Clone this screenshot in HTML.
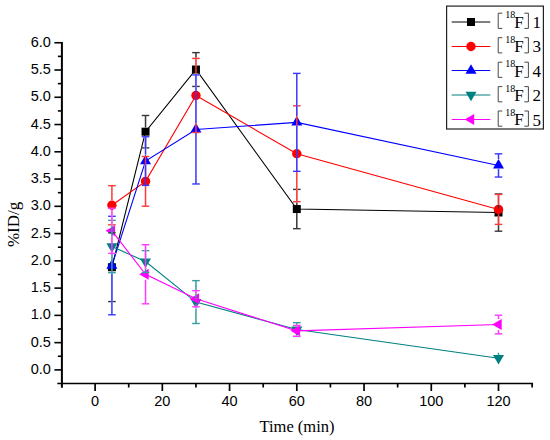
<!DOCTYPE html>
<html><head><meta charset="utf-8"><style>
html,body{margin:0;padding:0;background:#fff;}
body{width:550px;height:440px;overflow:hidden;}
svg{display:block;}
.tl{font-family:"Liberation Sans",sans-serif;font-size:14.5px;fill:#000;}
.at{font-family:"Liberation Serif",serif;font-size:16.5px;fill:#000;}
.lg{font-family:"Liberation Serif",serif;font-size:17px;fill:#000;}
.sup{font-family:"Liberation Serif",serif;font-size:10px;fill:#000;}
</style></head><body>
<svg width="550" height="440" viewBox="0 0 550 440">
<line x1="61.9" y1="41.90" x2="61.9" y2="387.7" stroke="#000" stroke-width="2"/>
<line x1="57.3" y1="383.5" x2="533.02" y2="383.5" stroke="#000" stroke-width="1.7"/>
<line x1="54.40" y1="369.90" x2="61.9" y2="369.90" stroke="#000" stroke-width="1.6"/>
<text x="50.8" y="373.90" text-anchor="end" class="tl">0.0</text>
<line x1="57.90" y1="356.27" x2="61.9" y2="356.27" stroke="#000" stroke-width="1.6"/>
<line x1="54.40" y1="342.64" x2="61.9" y2="342.64" stroke="#000" stroke-width="1.6"/>
<text x="50.8" y="346.64" text-anchor="end" class="tl">0.5</text>
<line x1="57.90" y1="329.01" x2="61.9" y2="329.01" stroke="#000" stroke-width="1.6"/>
<line x1="54.40" y1="315.38" x2="61.9" y2="315.38" stroke="#000" stroke-width="1.6"/>
<text x="50.8" y="319.38" text-anchor="end" class="tl">1.0</text>
<line x1="57.90" y1="301.74" x2="61.9" y2="301.74" stroke="#000" stroke-width="1.6"/>
<line x1="54.40" y1="288.11" x2="61.9" y2="288.11" stroke="#000" stroke-width="1.6"/>
<text x="50.8" y="292.11" text-anchor="end" class="tl">1.5</text>
<line x1="57.90" y1="274.48" x2="61.9" y2="274.48" stroke="#000" stroke-width="1.6"/>
<line x1="54.40" y1="260.85" x2="61.9" y2="260.85" stroke="#000" stroke-width="1.6"/>
<text x="50.8" y="264.85" text-anchor="end" class="tl">2.0</text>
<line x1="57.90" y1="247.22" x2="61.9" y2="247.22" stroke="#000" stroke-width="1.6"/>
<line x1="54.40" y1="233.59" x2="61.9" y2="233.59" stroke="#000" stroke-width="1.6"/>
<text x="50.8" y="237.59" text-anchor="end" class="tl">2.5</text>
<line x1="57.90" y1="219.96" x2="61.9" y2="219.96" stroke="#000" stroke-width="1.6"/>
<line x1="54.40" y1="206.32" x2="61.9" y2="206.32" stroke="#000" stroke-width="1.6"/>
<text x="50.8" y="210.32" text-anchor="end" class="tl">3.0</text>
<line x1="57.90" y1="192.69" x2="61.9" y2="192.69" stroke="#000" stroke-width="1.6"/>
<line x1="54.40" y1="179.06" x2="61.9" y2="179.06" stroke="#000" stroke-width="1.6"/>
<text x="50.8" y="183.06" text-anchor="end" class="tl">3.5</text>
<line x1="57.90" y1="165.43" x2="61.9" y2="165.43" stroke="#000" stroke-width="1.6"/>
<line x1="54.40" y1="151.80" x2="61.9" y2="151.80" stroke="#000" stroke-width="1.6"/>
<text x="50.8" y="155.80" text-anchor="end" class="tl">4.0</text>
<line x1="57.90" y1="138.17" x2="61.9" y2="138.17" stroke="#000" stroke-width="1.6"/>
<line x1="54.40" y1="124.54" x2="61.9" y2="124.54" stroke="#000" stroke-width="1.6"/>
<text x="50.8" y="128.54" text-anchor="end" class="tl">4.5</text>
<line x1="57.90" y1="110.91" x2="61.9" y2="110.91" stroke="#000" stroke-width="1.6"/>
<line x1="54.40" y1="97.27" x2="61.9" y2="97.27" stroke="#000" stroke-width="1.6"/>
<text x="50.8" y="101.27" text-anchor="end" class="tl">5.0</text>
<line x1="57.90" y1="83.64" x2="61.9" y2="83.64" stroke="#000" stroke-width="1.6"/>
<line x1="54.40" y1="70.01" x2="61.9" y2="70.01" stroke="#000" stroke-width="1.6"/>
<text x="50.8" y="74.01" text-anchor="end" class="tl">5.5</text>
<line x1="57.90" y1="56.38" x2="61.9" y2="56.38" stroke="#000" stroke-width="1.6"/>
<line x1="54.40" y1="42.75" x2="61.9" y2="42.75" stroke="#000" stroke-width="1.6"/>
<text x="50.8" y="46.75" text-anchor="end" class="tl">6.0</text>
<line x1="95.10" y1="383.5" x2="95.10" y2="391.00" stroke="#000" stroke-width="1.7"/>
<text x="95.10" y="405.8" text-anchor="middle" class="tl">0</text>
<line x1="128.72" y1="383.5" x2="128.72" y2="387.50" stroke="#000" stroke-width="1.7"/>
<line x1="162.33" y1="383.5" x2="162.33" y2="391.00" stroke="#000" stroke-width="1.7"/>
<text x="162.33" y="405.8" text-anchor="middle" class="tl">20</text>
<line x1="195.95" y1="383.5" x2="195.95" y2="387.50" stroke="#000" stroke-width="1.7"/>
<line x1="229.57" y1="383.5" x2="229.57" y2="391.00" stroke="#000" stroke-width="1.7"/>
<text x="229.57" y="405.8" text-anchor="middle" class="tl">40</text>
<line x1="263.19" y1="383.5" x2="263.19" y2="387.50" stroke="#000" stroke-width="1.7"/>
<line x1="296.80" y1="383.5" x2="296.80" y2="391.00" stroke="#000" stroke-width="1.7"/>
<text x="296.80" y="405.8" text-anchor="middle" class="tl">60</text>
<line x1="330.42" y1="383.5" x2="330.42" y2="387.50" stroke="#000" stroke-width="1.7"/>
<line x1="364.04" y1="383.5" x2="364.04" y2="391.00" stroke="#000" stroke-width="1.7"/>
<text x="364.04" y="405.8" text-anchor="middle" class="tl">80</text>
<line x1="397.65" y1="383.5" x2="397.65" y2="387.50" stroke="#000" stroke-width="1.7"/>
<line x1="431.27" y1="383.5" x2="431.27" y2="391.00" stroke="#000" stroke-width="1.7"/>
<text x="431.27" y="405.8" text-anchor="middle" class="tl">100</text>
<line x1="464.89" y1="383.5" x2="464.89" y2="387.50" stroke="#000" stroke-width="1.7"/>
<line x1="498.50" y1="383.5" x2="498.50" y2="391.00" stroke="#000" stroke-width="1.7"/>
<text x="498.50" y="405.8" text-anchor="middle" class="tl">120</text>
<line x1="532.12" y1="383.5" x2="532.12" y2="387.50" stroke="#000" stroke-width="1.7"/>
<text x="297.0" y="432.0" text-anchor="middle" class="at">Time (min)</text>
<text transform="translate(18.9,224.4) rotate(-90)" text-anchor="middle" class="at" style="font-size:17px">%ID/g</text>
<polyline points="111.91,267.23 145.53,131.68 195.95,69.52 296.80,209.05 498.50,212.49" fill="none" stroke="#000000" stroke-width="1.1"/>
<rect x="107.91" y="263.23" width="8.0" height="8.0" fill="#000000"/>
<rect x="141.53" y="127.68" width="8.0" height="8.0" fill="#000000"/>
<rect x="191.95" y="65.52" width="8.0" height="8.0" fill="#000000"/>
<rect x="292.80" y="205.05" width="8.0" height="8.0" fill="#000000"/>
<rect x="494.50" y="208.49" width="8.0" height="8.0" fill="#000000"/>
<polyline points="111.91,205.23 145.53,181.35 195.95,95.48 296.80,153.76 498.50,209.43" fill="none" stroke="#ff0000" stroke-width="1.1"/>
<circle cx="111.91" cy="205.23" r="4.7" fill="#ff0000"/>
<circle cx="145.53" cy="181.35" r="4.7" fill="#ff0000"/>
<circle cx="195.95" cy="95.48" r="4.7" fill="#ff0000"/>
<circle cx="296.80" cy="153.76" r="4.7" fill="#ff0000"/>
<circle cx="498.50" cy="209.43" r="4.7" fill="#ff0000"/>
<polyline points="111.91,265.54 145.53,161.07 195.95,129.44 296.80,122.36 498.50,165.43" fill="none" stroke="#0000ff" stroke-width="1.1"/>
<polygon points="111.91,259.19 117.41,268.71 106.41,268.71" fill="#0000ff"/>
<polygon points="145.53,154.72 151.03,164.24 140.03,164.24" fill="#0000ff"/>
<polygon points="195.95,123.09 201.45,132.62 190.45,132.62" fill="#0000ff"/>
<polygon points="296.80,116.01 302.30,125.53 291.30,125.53" fill="#0000ff"/>
<polygon points="498.50,159.08 504.00,168.61 493.00,168.61" fill="#0000ff"/>
<polyline points="111.91,246.51 145.53,261.56 195.95,302.07 296.80,329.55 498.50,358.23" fill="none" stroke="#008080" stroke-width="1.1"/>
<polygon points="106.41,243.33 117.41,243.33 111.91,252.86" fill="#008080"/>
<polygon points="140.03,258.38 151.03,258.38 145.53,267.91" fill="#008080"/>
<polygon points="190.45,298.90 201.45,298.90 195.95,308.42" fill="#008080"/>
<polygon points="291.30,326.38 302.30,326.38 296.80,335.90" fill="#008080"/>
<polygon points="493.00,355.06 504.00,355.06 498.50,364.58" fill="#008080"/>
<polyline points="111.91,230.81 145.53,274.26 195.95,298.74 296.80,330.86 498.50,324.54" fill="none" stroke="#ff00ff" stroke-width="1.1"/>
<polygon points="105.56,230.81 115.08,225.31 115.08,236.31" fill="#ff00ff"/>
<polygon points="139.17,274.26 148.70,268.76 148.70,279.76" fill="#ff00ff"/>
<polygon points="189.60,298.74 199.13,293.24 199.13,304.24" fill="#ff00ff"/>
<polygon points="290.45,330.86 299.98,325.36 299.98,336.36" fill="#ff00ff"/>
<polygon points="492.15,324.54 501.68,319.04 501.68,330.04" fill="#ff00ff"/>
<defs><mask id="nosym" maskUnits="userSpaceOnUse" x="0" y="0" width="550" height="440"><rect x="0" y="0" width="550" height="440" fill="#fff"/><rect x="107.91" y="263.23" width="8.0" height="8.0" fill="#000"/><rect x="141.53" y="127.68" width="8.0" height="8.0" fill="#000"/><rect x="191.95" y="65.52" width="8.0" height="8.0" fill="#000"/><rect x="292.80" y="205.05" width="8.0" height="8.0" fill="#000"/><rect x="494.50" y="208.49" width="8.0" height="8.0" fill="#000"/><circle cx="111.91" cy="205.23" r="4.7" fill="#000"/><circle cx="145.53" cy="181.35" r="4.7" fill="#000"/><circle cx="195.95" cy="95.48" r="4.7" fill="#000"/><circle cx="296.80" cy="153.76" r="4.7" fill="#000"/><circle cx="498.50" cy="209.43" r="4.7" fill="#000"/><polygon points="111.91,259.19 117.41,268.71 106.41,268.71" fill="#000"/><polygon points="145.53,154.72 151.03,164.24 140.03,164.24" fill="#000"/><polygon points="195.95,123.09 201.45,132.62 190.45,132.62" fill="#000"/><polygon points="296.80,116.01 302.30,125.53 291.30,125.53" fill="#000"/><polygon points="498.50,159.08 504.00,168.61 493.00,168.61" fill="#000"/><polygon points="106.41,243.33 117.41,243.33 111.91,252.86" fill="#000"/><polygon points="140.03,258.38 151.03,258.38 145.53,267.91" fill="#000"/><polygon points="190.45,298.90 201.45,298.90 195.95,308.42" fill="#000"/><polygon points="291.30,326.38 302.30,326.38 296.80,335.90" fill="#000"/><polygon points="493.00,355.06 504.00,355.06 498.50,364.58" fill="#000"/><polygon points="105.56,230.81 115.08,225.31 115.08,236.31" fill="#000"/><polygon points="139.17,274.26 148.70,268.76 148.70,279.76" fill="#000"/><polygon points="189.60,298.74 199.13,293.24 199.13,304.24" fill="#000"/><polygon points="290.45,330.86 299.98,325.36 299.98,336.36" fill="#000"/><polygon points="492.15,324.54 501.68,319.04 501.68,330.04" fill="#000"/></mask></defs>
<g fill="#fff" mask="url(#nosym)"><rect x="111.16" y="232.88" width="1.5" height="30.35"/><rect x="111.16" y="271.23" width="1.5" height="30.35"/><rect x="108.11" y="232.18" width="7.6" height="1.4"/><rect x="108.11" y="300.88" width="7.6" height="1.4"/><rect x="144.78" y="115.49" width="1.5" height="12.19"/><rect x="144.78" y="135.68" width="1.5" height="12.19"/><rect x="141.73" y="114.79" width="7.6" height="1.4"/><rect x="141.73" y="147.17" width="7.6" height="1.4"/><rect x="195.20" y="52.62" width="1.5" height="12.90"/><rect x="195.20" y="73.52" width="1.5" height="12.90"/><rect x="192.15" y="51.92" width="7.6" height="1.4"/><rect x="192.15" y="85.72" width="7.6" height="1.4"/><rect x="296.05" y="189.42" width="1.5" height="15.63"/><rect x="296.05" y="213.05" width="1.5" height="15.63"/><rect x="293.00" y="188.72" width="7.6" height="1.4"/><rect x="293.00" y="227.98" width="7.6" height="1.4"/><rect x="497.75" y="193.78" width="1.5" height="14.70"/><rect x="497.75" y="216.49" width="1.5" height="14.70"/><rect x="494.70" y="193.08" width="7.6" height="1.4"/><rect x="494.70" y="230.49" width="7.6" height="1.4"/></g>
<g fill="#383838"><rect x="111.16" y="232.88" width="1.5" height="30.35"/><rect x="111.16" y="271.23" width="1.5" height="30.35"/><rect x="108.11" y="232.18" width="7.6" height="1.4"/><rect x="108.11" y="300.88" width="7.6" height="1.4"/><rect x="144.78" y="115.49" width="1.5" height="12.19"/><rect x="144.78" y="135.68" width="1.5" height="12.19"/><rect x="141.73" y="114.79" width="7.6" height="1.4"/><rect x="141.73" y="147.17" width="7.6" height="1.4"/><rect x="195.20" y="52.62" width="1.5" height="12.90"/><rect x="195.20" y="73.52" width="1.5" height="12.90"/><rect x="192.15" y="51.92" width="7.6" height="1.4"/><rect x="192.15" y="85.72" width="7.6" height="1.4"/><rect x="296.05" y="189.42" width="1.5" height="15.63"/><rect x="296.05" y="213.05" width="1.5" height="15.63"/><rect x="293.00" y="188.72" width="7.6" height="1.4"/><rect x="293.00" y="227.98" width="7.6" height="1.4"/><rect x="497.75" y="193.78" width="1.5" height="14.70"/><rect x="497.75" y="216.49" width="1.5" height="14.70"/><rect x="494.70" y="193.08" width="7.6" height="1.4"/><rect x="494.70" y="230.49" width="7.6" height="1.4"/></g>
<g fill="#fff" mask="url(#nosym)"><rect x="111.16" y="185.66" width="1.5" height="14.87"/><rect x="111.16" y="209.93" width="1.5" height="14.87"/><rect x="108.11" y="184.96" width="7.6" height="1.4"/><rect x="108.11" y="224.11" width="7.6" height="1.4"/><rect x="144.78" y="156.49" width="1.5" height="20.16"/><rect x="144.78" y="186.05" width="1.5" height="20.16"/><rect x="141.73" y="155.79" width="7.6" height="1.4"/><rect x="141.73" y="205.52" width="7.6" height="1.4"/><rect x="195.20" y="58.40" width="1.5" height="32.38"/><rect x="195.20" y="100.18" width="1.5" height="32.38"/><rect x="192.15" y="57.70" width="7.6" height="1.4"/><rect x="192.15" y="131.85" width="7.6" height="1.4"/><rect x="296.05" y="105.78" width="1.5" height="43.28"/><rect x="296.05" y="158.46" width="1.5" height="43.28"/><rect x="293.00" y="105.08" width="7.6" height="1.4"/><rect x="293.00" y="201.04" width="7.6" height="1.4"/><rect x="497.75" y="194.49" width="1.5" height="10.24"/><rect x="497.75" y="214.13" width="1.5" height="10.24"/><rect x="494.70" y="193.79" width="7.6" height="1.4"/><rect x="494.70" y="223.67" width="7.6" height="1.4"/></g>
<g fill="#ff3838"><rect x="111.16" y="185.66" width="1.5" height="14.87"/><rect x="111.16" y="209.93" width="1.5" height="14.87"/><rect x="108.11" y="184.96" width="7.6" height="1.4"/><rect x="108.11" y="224.11" width="7.6" height="1.4"/><rect x="144.78" y="156.49" width="1.5" height="20.16"/><rect x="144.78" y="186.05" width="1.5" height="20.16"/><rect x="141.73" y="155.79" width="7.6" height="1.4"/><rect x="141.73" y="205.52" width="7.6" height="1.4"/><rect x="195.20" y="58.40" width="1.5" height="32.38"/><rect x="195.20" y="100.18" width="1.5" height="32.38"/><rect x="192.15" y="57.70" width="7.6" height="1.4"/><rect x="192.15" y="131.85" width="7.6" height="1.4"/><rect x="296.05" y="105.78" width="1.5" height="43.28"/><rect x="296.05" y="158.46" width="1.5" height="43.28"/><rect x="293.00" y="105.08" width="7.6" height="1.4"/><rect x="293.00" y="201.04" width="7.6" height="1.4"/><rect x="497.75" y="194.49" width="1.5" height="10.24"/><rect x="497.75" y="214.13" width="1.5" height="10.24"/><rect x="494.70" y="193.79" width="7.6" height="1.4"/><rect x="494.70" y="223.67" width="7.6" height="1.4"/></g>
<g fill="#fff" mask="url(#nosym)"><rect x="111.16" y="216.30" width="1.5" height="42.89"/><rect x="111.16" y="268.71" width="1.5" height="46.06"/><rect x="108.11" y="215.60" width="7.6" height="1.4"/><rect x="108.11" y="314.08" width="7.6" height="1.4"/><rect x="144.78" y="136.75" width="1.5" height="17.97"/><rect x="144.78" y="164.24" width="1.5" height="21.14"/><rect x="141.73" y="136.05" width="7.6" height="1.4"/><rect x="141.73" y="184.69" width="7.6" height="1.4"/><rect x="195.20" y="74.92" width="1.5" height="48.17"/><rect x="195.20" y="132.62" width="1.5" height="51.35"/><rect x="192.15" y="74.22" width="7.6" height="1.4"/><rect x="192.15" y="183.27" width="7.6" height="1.4"/><rect x="296.05" y="73.39" width="1.5" height="42.61"/><rect x="296.05" y="125.53" width="1.5" height="45.79"/><rect x="293.00" y="72.69" width="7.6" height="1.4"/><rect x="293.00" y="170.62" width="7.6" height="1.4"/><rect x="497.75" y="153.82" width="1.5" height="5.26"/><rect x="497.75" y="168.61" width="1.5" height="8.44"/><rect x="494.70" y="153.12" width="7.6" height="1.4"/><rect x="494.70" y="176.35" width="7.6" height="1.4"/></g>
<g fill="#3838ff"><rect x="111.16" y="216.30" width="1.5" height="42.89"/><rect x="111.16" y="268.71" width="1.5" height="46.06"/><rect x="108.11" y="215.60" width="7.6" height="1.4"/><rect x="108.11" y="314.08" width="7.6" height="1.4"/><rect x="144.78" y="136.75" width="1.5" height="17.97"/><rect x="144.78" y="164.24" width="1.5" height="21.14"/><rect x="141.73" y="136.05" width="7.6" height="1.4"/><rect x="141.73" y="184.69" width="7.6" height="1.4"/><rect x="195.20" y="74.92" width="1.5" height="48.17"/><rect x="195.20" y="132.62" width="1.5" height="51.35"/><rect x="192.15" y="74.22" width="7.6" height="1.4"/><rect x="192.15" y="183.27" width="7.6" height="1.4"/><rect x="296.05" y="73.39" width="1.5" height="42.61"/><rect x="296.05" y="125.53" width="1.5" height="45.79"/><rect x="293.00" y="72.69" width="7.6" height="1.4"/><rect x="293.00" y="170.62" width="7.6" height="1.4"/><rect x="497.75" y="153.82" width="1.5" height="5.26"/><rect x="497.75" y="168.61" width="1.5" height="8.44"/><rect x="494.70" y="153.12" width="7.6" height="1.4"/><rect x="494.70" y="176.35" width="7.6" height="1.4"/></g>
<g fill="#fff" mask="url(#nosym)"><rect x="111.16" y="220.34" width="1.5" height="23.00"/><rect x="111.16" y="252.86" width="1.5" height="19.82"/><rect x="108.11" y="219.64" width="7.6" height="1.4"/><rect x="108.11" y="271.98" width="7.6" height="1.4"/><rect x="144.78" y="250.65" width="1.5" height="7.73"/><rect x="144.78" y="267.91" width="1.5" height="4.55"/><rect x="141.73" y="249.95" width="7.6" height="1.4"/><rect x="141.73" y="271.76" width="7.6" height="1.4"/><rect x="195.20" y="280.64" width="1.5" height="18.25"/><rect x="195.20" y="308.42" width="1.5" height="15.08"/><rect x="192.15" y="279.94" width="7.6" height="1.4"/><rect x="192.15" y="322.80" width="7.6" height="1.4"/><rect x="296.05" y="322.68" width="1.5" height="3.69"/><rect x="296.05" y="335.90" width="1.5" height="0.52"/><rect x="293.00" y="321.98" width="7.6" height="1.4"/><rect x="293.00" y="335.72" width="7.6" height="1.4"/><rect x="497.75" y="352.78" width="1.5" height="2.28"/></g>
<g fill="#389c9c"><rect x="111.16" y="220.34" width="1.5" height="23.00"/><rect x="111.16" y="252.86" width="1.5" height="19.82"/><rect x="108.11" y="219.64" width="7.6" height="1.4"/><rect x="108.11" y="271.98" width="7.6" height="1.4"/><rect x="144.78" y="250.65" width="1.5" height="7.73"/><rect x="144.78" y="267.91" width="1.5" height="4.55"/><rect x="141.73" y="249.95" width="7.6" height="1.4"/><rect x="141.73" y="271.76" width="7.6" height="1.4"/><rect x="195.20" y="280.64" width="1.5" height="18.25"/><rect x="195.20" y="308.42" width="1.5" height="15.08"/><rect x="192.15" y="279.94" width="7.6" height="1.4"/><rect x="192.15" y="322.80" width="7.6" height="1.4"/><rect x="296.05" y="322.68" width="1.5" height="3.69"/><rect x="296.05" y="335.90" width="1.5" height="0.52"/><rect x="293.00" y="321.98" width="7.6" height="1.4"/><rect x="293.00" y="335.72" width="7.6" height="1.4"/><rect x="497.75" y="352.78" width="1.5" height="2.28"/></g>
<g fill="#fff" mask="url(#nosym)"><rect x="111.16" y="208.23" width="1.5" height="17.07"/><rect x="111.16" y="236.31" width="1.5" height="17.07"/><rect x="108.11" y="207.53" width="7.6" height="1.4"/><rect x="108.11" y="252.68" width="7.6" height="1.4"/><rect x="144.78" y="244.71" width="1.5" height="24.05"/><rect x="144.78" y="279.76" width="1.5" height="24.05"/><rect x="141.73" y="244.01" width="7.6" height="1.4"/><rect x="141.73" y="303.12" width="7.6" height="1.4"/><rect x="195.20" y="290.68" width="1.5" height="2.57"/><rect x="195.20" y="304.24" width="1.5" height="2.57"/><rect x="192.15" y="289.98" width="7.6" height="1.4"/><rect x="192.15" y="306.11" width="7.6" height="1.4"/><rect x="293.00" y="324.71" width="7.6" height="1.4"/><rect x="293.00" y="335.61" width="7.6" height="1.4"/><rect x="497.75" y="315.21" width="1.5" height="3.82"/><rect x="497.75" y="330.04" width="1.5" height="3.82"/><rect x="494.70" y="314.51" width="7.6" height="1.4"/><rect x="494.70" y="333.16" width="7.6" height="1.4"/></g>
<g fill="#ff38ff"><rect x="111.16" y="208.23" width="1.5" height="17.07"/><rect x="111.16" y="236.31" width="1.5" height="17.07"/><rect x="108.11" y="207.53" width="7.6" height="1.4"/><rect x="108.11" y="252.68" width="7.6" height="1.4"/><rect x="144.78" y="244.71" width="1.5" height="24.05"/><rect x="144.78" y="279.76" width="1.5" height="24.05"/><rect x="141.73" y="244.01" width="7.6" height="1.4"/><rect x="141.73" y="303.12" width="7.6" height="1.4"/><rect x="195.20" y="290.68" width="1.5" height="2.57"/><rect x="195.20" y="304.24" width="1.5" height="2.57"/><rect x="192.15" y="289.98" width="7.6" height="1.4"/><rect x="192.15" y="306.11" width="7.6" height="1.4"/><rect x="293.00" y="324.71" width="7.6" height="1.4"/><rect x="293.00" y="335.61" width="7.6" height="1.4"/><rect x="497.75" y="315.21" width="1.5" height="3.82"/><rect x="497.75" y="330.04" width="1.5" height="3.82"/><rect x="494.70" y="314.51" width="7.6" height="1.4"/><rect x="494.70" y="333.16" width="7.6" height="1.4"/></g>
<rect x="446.6" y="6.1" width="96.80" height="122.90" fill="#fff" stroke="#222" stroke-width="1.2"/>
<line x1="451.7" y1="22.0" x2="490.3" y2="22.0" stroke="#000000" stroke-width="1"/>
<rect x="467.00" y="18.00" width="8.0" height="8.0" fill="#000000"/>
<path d="M502.3,13.20 h-4.1 v15.2 h4.1 M524.4,13.20 h4 v15.2 h-4" fill="none" stroke="#333" stroke-width="0.9"/>
<text x="505.2" y="18.20" class="sup">18</text>
<text x="514.2" y="27.60" class="lg">F</text>
<text x="532.4" y="27.70" class="lg">1</text>
<line x1="451.7" y1="46.5" x2="490.3" y2="46.5" stroke="#ff0000" stroke-width="1"/>
<circle cx="471.00" cy="46.50" r="4.7" fill="#ff0000"/>
<path d="M502.3,37.70 h-4.1 v15.2 h4.1 M524.4,37.70 h4 v15.2 h-4" fill="none" stroke="#333" stroke-width="0.9"/>
<text x="505.2" y="42.70" class="sup">18</text>
<text x="514.2" y="52.10" class="lg">F</text>
<text x="532.4" y="52.20" class="lg">3</text>
<line x1="451.7" y1="70.5" x2="490.3" y2="70.5" stroke="#0000ff" stroke-width="1"/>
<polygon points="471.00,64.15 476.50,73.68 465.50,73.68" fill="#0000ff"/>
<path d="M502.3,62.20 h-4.1 v15.2 h4.1 M524.4,62.20 h4 v15.2 h-4" fill="none" stroke="#333" stroke-width="0.9"/>
<text x="505.2" y="67.20" class="sup">18</text>
<text x="514.2" y="76.60" class="lg">F</text>
<text x="532.4" y="76.70" class="lg">4</text>
<line x1="451.7" y1="95.0" x2="490.3" y2="95.0" stroke="#008080" stroke-width="1"/>
<polygon points="465.50,91.82 476.50,91.82 471.00,101.35" fill="#008080"/>
<path d="M502.3,86.60 h-4.1 v15.2 h4.1 M524.4,86.60 h4 v15.2 h-4" fill="none" stroke="#333" stroke-width="0.9"/>
<text x="505.2" y="91.60" class="sup">18</text>
<text x="514.2" y="101.00" class="lg">F</text>
<text x="532.4" y="101.10" class="lg">2</text>
<line x1="451.7" y1="119.5" x2="490.3" y2="119.5" stroke="#ff00ff" stroke-width="1"/>
<polygon points="464.65,119.50 474.18,114.00 474.18,125.00" fill="#ff00ff"/>
<path d="M502.3,111.00 h-4.1 v15.2 h4.1 M524.4,111.00 h4 v15.2 h-4" fill="none" stroke="#333" stroke-width="0.9"/>
<text x="505.2" y="116.00" class="sup">18</text>
<text x="514.2" y="125.40" class="lg">F</text>
<text x="532.4" y="125.50" class="lg">5</text>
</svg>
</body></html>
